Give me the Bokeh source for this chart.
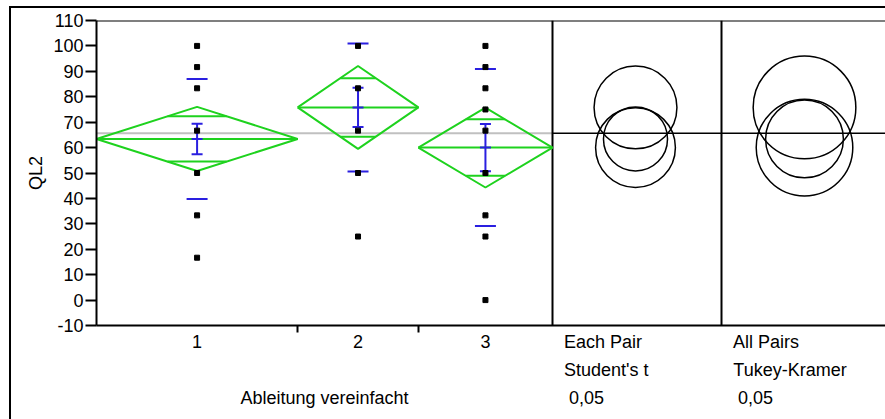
from bokeh.plotting import figure
from bokeh.models import Range1d, FixedTicker, Span, LinearAxis
from bokeh.embed import file_html
from bokeh.resources import INLINE

# ---- data -------------------------------------------------------------
categories = ["1", "2", "3"]
group_n = [15, 9, 10]

points_1 = [100, 91.67, 83.33, 66.67, 50, 33.33, 16.67]
points_2 = [100, 83.33, 66.67, 50, 25]
points_3 = [100, 91.67, 83.33, 75, 66.67, 50, 33.33, 25, 0]

group_mean = [63.4, 75.8, 60.0]
ci95_half = [12.6, 16.3, 15.7]      # diamond half-height / Student's t circle radius
std_dev = [23.6, 25.2, 30.9]
std_err = [6.0, 7.7, 9.3]
tukey_radius = [15.3, 20.2, 19.0]
grand_mean = 65.6

y_ticks = list(range(-10, 111, 10))
y_tick_labels = [str(t) for t in y_ticks]
x_title = "Ableitung vereinfacht"
panel_titles = [["Each Pair", "Student's t", " 0,05"],
                ["All Pairs", "Tukey-Kramer", " 0,05"]]

# ---- layout -----------------------------------------------------------
PAGE_W, PAGE_H = 885, 419
MARGIN_L, MARGIN_T = 9, 6            # outer border position
W, H = PAGE_W - MARGIN_L, PAGE_H - MARGIN_T
FRAME_L, FRAME_T, FRAME_B = 96, 20, 325   # page pixels
frame_w = PAGE_W - FRAME_L
main_w_px = 456                       # width of the group area
panel_w_px = 169                      # width of each comparison-circle panel
n_total = sum(group_n)
ux = n_total / main_w_px              # x data units per pixel
x_end = frame_w * ux

FONT = "Liberation Sans"
FS_PX = 18
FS = f"{FS_PX}px"

# advance widths (em) of Liberation Sans, used to left-align captions
CHAR_W = {"E": .667, "a": .556, "c": .5, "h": .556, " ": .278, "P": .667, "i": .222,
          "r": .333, "S": .667, "t": .278, "u": .556, "d": .556, "e": .556, "n": .556,
          "'": .191, "s": .5, "A": .667, "l": .222, "T": .611, "k": .5, "y": .5,
          "-": .333, "K": .667, "m": .833, "0": .556, ",": .278, "5": .556}

def text_w(s):
    return sum(CHAR_W.get(ch, .556) for ch in s) * FS_PX

lefts = []
acc = 0
for n in group_n:
    lefts.append(acc)
    acc += n
rights = [l + n for l, n in zip(lefts, group_n)]
centers = [(l + r) / 2 for l, r in zip(lefts, rights)]
panel_left = [n_total + k * panel_w_px * ux for k in range(2)]

p = figure(width=W, height=H, output_backend="svg", toolbar_location=None,
           x_range=Range1d(0, x_end), y_range=Range1d(-10, 110),
           min_border_left=FRAME_L - MARGIN_L, min_border_right=0,
           min_border_top=FRAME_T - MARGIN_T, min_border_bottom=PAGE_H - FRAME_B,
           outline_line_color=None, margin=(MARGIN_T, 0, 0, MARGIN_L))
p.grid.visible = False
p.background_fill_color = "white"
p.border_fill_color = None
# outer frame of the report: left and top edges
p.styles = {"box-shadow": "inset 2px 2px 0px 0px black"}

# y axis
p.yaxis.ticker = FixedTicker(ticks=y_ticks, minor_ticks=[])
p.yaxis.major_label_overrides = dict(zip(y_ticks, y_tick_labels))
p.yaxis.axis_label = "QL2"
p.yaxis.axis_label_text_font = FONT
p.yaxis.axis_label_text_font_size = FS
p.yaxis.axis_label_text_font_style = "normal"
p.yaxis.axis_label_text_color = "black"
p.yaxis.axis_label_standoff = 4
p.yaxis.major_label_text_font = FONT
p.yaxis.major_label_text_font_size = FS
p.yaxis.major_label_text_color = "black"
p.yaxis.major_label_standoff = 2
p.yaxis.major_tick_out = 11
p.yaxis.major_tick_in = 0
p.yaxis.major_tick_line_width = 2
p.yaxis.axis_line_width = 2


def caption_x(panel, s):
    """tick position that puts caption s at the panel's left text margin"""
    shown = s.lstrip(" ")
    indent = 11.5 + text_w(s[:len(s) - len(shown)])
    return round(panel_left[panel] + (indent + text_w(shown) / 2) * ux, 4), shown


def style_labels(ax, standoff):
    ax.major_label_text_font = FONT
    ax.major_label_text_font_size = FS
    ax.major_label_text_color = "black"
    ax.major_tick_line_color = None
    ax.major_tick_out = 0
    ax.major_tick_in = 0
    ax.major_label_standoff = standoff


def caption_row(k_row):
    row = {}
    for k in range(2):
        pos, shown = caption_x(k, panel_titles[k][k_row])
        row[pos] = shown
    return row


# x axis: category labels at group centres, ticks at group boundaries,
# first caption row of each comparison panel
row1 = {round(c, 4): lab for c, lab in zip(centers, categories)}
row1.update(caption_row(0))
xa = p.xaxis[0]
xa.ticker = FixedTicker(ticks=sorted(row1), minor_ticks=rights[:-1])
xa.major_label_overrides = row1
style_labels(xa, -1)
xa.minor_tick_out = 7
xa.minor_tick_in = 0
xa.minor_tick_line_width = 2
xa.axis_line_width = 2

# second caption row
row2 = caption_row(1)
# third caption row plus the grouping variable name under the groups
row3 = caption_row(2)
row3[round(n_total / 2, 4)] = x_title
for row in (row2, row3):
    ax = LinearAxis(ticker=FixedTicker(ticks=sorted(row), minor_ticks=[]),
                    major_label_overrides=row)
    style_labels(ax, 5)
    ax.axis_line_color = None
    ax.minor_tick_line_color = None
    p.add_layout(ax, "below")

# top edge of the plotting frame
p.add_layout(Span(location=110, dimension="width", line_color="black", line_width=2))

# grand mean line over the groups
p.segment(x0=0, x1=n_total, y0=grand_mean, y1=grand_mean, line_color="#c0c0c0", line_width=2)
# grand mean line across the comparison-circle panels
p.segment(x0=n_total, x1=x_end, y0=grand_mean, y1=grand_mean, line_color="black", line_width=1.5)

# panel separators
for xl in panel_left:
    p.segment(x0=xl, x1=xl, y0=-10, y1=110, line_color="black", line_width=2)

GREEN = "#1ed21e"
BLUE = "#2a1fe0"
sd_half = 10.5 * ux
cap_half = 5.5 * ux

for i in range(3):
    l, r, c, m, h = lefts[i], rights[i], centers[i], group_mean[i], ci95_half[i]
    # means diamond
    p.line(x=[l, c, r, c, l], y=[m, m + h, m, m - h, m], line_color=GREEN, line_width=2)
    p.segment(x0=l, x1=r, y0=m, y1=m, line_color=GREEN, line_width=2)
    # overlap marks
    d = h / 2 ** 0.5
    hw = (r - l) / 2 * (1 - d / h)
    for yy in (m + d, m - d):
        p.segment(x0=c - hw, x1=c + hw, y0=yy, y1=yy, line_color=GREEN, line_width=2)
    # std dev lines
    for yy in (m + std_dev[i], m - std_dev[i]):
        p.segment(x0=c - sd_half, x1=c + sd_half, y0=yy, y1=yy, line_color=BLUE, line_width=2)
    # std error bar
    se = std_err[i]
    p.segment(x0=c, x1=c, y0=m - se, y1=m + se, line_color=BLUE, line_width=2)
    for yy in (m - se, m, m + se):
        p.segment(x0=c - cap_half, x1=c + cap_half, y0=yy, y1=yy, line_color=BLUE, line_width=2)

# raw observations
for c, pts in zip(centers, [points_1, points_2, points_3]):
    p.scatter(x=[c] * len(pts), y=pts, marker="square", size=5, color="black")

# comparison circles
circle_off = 83 * ux
for xl, radii in zip(panel_left, [ci95_half, tukey_radius]):
    p.circle(x=[xl + circle_off] * 3, y=group_mean, radius=radii, radius_dimension="y",
             fill_color=None, line_color="black", line_width=1.5)

open("out.html", "w").write(file_html(p, INLINE))
